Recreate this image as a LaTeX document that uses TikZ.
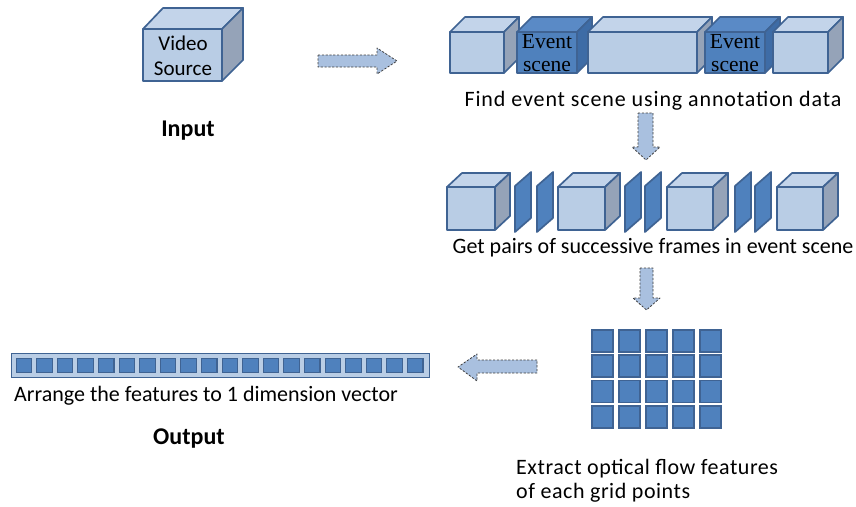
\documentclass[tikz,border=0pt]{standalone}
\usepackage{fontspec}
\setmainfont{Carlito}
\newfontfamily\evfont{Liberation Serif}
\definecolor{lightfill}{HTML}{B9CDE5}
\definecolor{topfill}{HTML}{C3D4EA}
\definecolor{sidefill}{HTML}{95A3B8}
\definecolor{darkfill}{HTML}{4F81BD}
\definecolor{darktop}{HTML}{5A8AC6}
\definecolor{darkside}{HTML}{3E6CA6}
\definecolor{edge}{HTML}{3F6393}
\definecolor{arrowfill}{HTML}{A9C0DF}
\tikzset{
  face/.style={draw=edge, line width=1.7pt, line join=round},
  front/.style={face, fill=lightfill, inner sep=0pt, outer sep=0pt, rectangle, anchor=north west},
  dfront/.style={face, fill=darkfill, inner sep=0pt, outer sep=0pt, rectangle, anchor=north west},
  slab/.style={face, fill=darkfill},
  blockarrow/.style={draw=black!75, fill=arrowfill, dashed, dash pattern=on 2.2pt off 1.6pt, line width=0.8pt, line join=round},
  lbl/.style={font=\fontsize{22}{25}\selectfont, inner sep=0pt},
  bold/.style={font=\fontsize{24}{27}\selectfont\bfseries, inner sep=0pt},
  evtxt/.style={font=\evfont\fontsize{21.5}{23}\selectfont, align=center, inner sep=0pt},
  cell/.style={draw=edge, line width=1.8pt, fill=darkfill},
  vcell/.style={draw=edge, line width=1.1pt, fill=darkfill},
}
\begin{document}
\begin{tikzpicture}[x=1pt,y=-1pt]
\useasboundingbox (0,0) rectangle (856,506);
\fill[white] (0,0) rectangle (856,506);

% video source cube
\path[face, fill=topfill] (143,29) -- (163,8) -- (243,8) -- (222,29) -- cycle;
\path[face, fill=sidefill] (222,29) -- (243,8) -- (243,60) -- (222,81) -- cycle;
\node[front, minimum width=79pt, minimum height=52pt] (video) at (143,29) {};
\node[align=center, inner sep=0pt, font=\fontsize{21}{24.5}\selectfont] (videotxt) at (183,56) {Video\\Source};
\node[bold] (input) at (188,131) {Input};

% arrow right
\path[blockarrow] (318,55) -- (377,55) -- (377,48) -- (397,61) -- (377,74) -- (377,67) -- (318,67) -- cycle;

% top row of scenes
\foreach \n/\a/\b/\s/\t/\f in {s1/450/504/front/topfill/sidefill, s2/517/577/dfront/darktop/darkside, s3/588/697/front/topfill/sidefill, s4/705/765/dfront/darktop/darkside, s5/773/828/front/topfill/sidefill}{
  \path[face, fill=\t] (\a,32) -- (\a+15,17) -- (\b+15,17) -- (\b,32) -- cycle;
  \path[face, fill=\f] (\b,32) -- (\b+15,17) -- (\b+15,58) -- (\b,73) -- cycle;
  \pgfmathsetmacro\w{\b-\a}
  \node[\s, minimum width=\w pt, minimum height=41pt] (\n) at (\a,32) {};
}
\node[evtxt] (ev1) at ([yshift=-1pt]s2.center) {Event\\scene};
\node[evtxt] (ev2) at ([yshift=-1pt]s4.center) {Event\\scene};
\node[lbl, font=\fontsize{22}{25}\selectfont\addfontfeature{LetterSpace=4}] (find) at (653,101) {Find event scene using annotation data};

% arrow down 1
\path[blockarrow] (638,113) -- (653,113) -- (653,147) -- (660,147) -- (646,160) -- (632,147) -- (638,147) -- cycle;

% middle row: frames
\foreach \n/\a/\b in {c1/447/495, c2/558/605, c3/667/713, c4/777/823}{
  \path[face, fill=topfill] (\a,187) -- (\a+15,173) -- (\b+15,173) -- (\b,187) -- cycle;
  \path[face, fill=sidefill] (\b,187) -- (\b+15,173) -- (\b+15,216) -- (\b,230) -- cycle;
  \pgfmathsetmacro\w{\b-\a}
  \node[front, minimum width=\w pt, minimum height=43pt] (\n) at (\a,187) {};
}
\foreach \l in {515,537,625,645,735,755}{
  \path[slab] (\l,186) -- (\l+16,172) -- (\l+16,218) -- (\l,232) -- cycle;
}
\node[lbl] (pairs) at (653,248) {Get pairs of successive frames in event scene};

% arrow down 2
\path[blockarrow] (640,268) -- (653,268) -- (653,298) -- (660,298) -- (646.5,310) -- (633,298) -- (640,298) -- cycle;

% grid
\foreach \i in {0,...,4}{
  \foreach \j in {0,...,3}{
    \node[cell, inner sep=0pt, minimum width=21pt, minimum height=22pt, anchor=north west] (g\i\j) at (591+27*\i, 329+25.3*\j) {};
  }
}
\node[lbl, align=left, anchor=north west, font=\fontsize{22}{24.5}\selectfont\addfontfeature{LetterSpace=2.5}] (extract) at (516,459) {Extract optical flow features\\of each grid points};

% arrow left
\path[blockarrow] (537,360) -- (477,360) -- (477,354) -- (458,367) -- (477,381) -- (477,373) -- (537,373) -- cycle;

% vector
\node[draw=edge, line width=1.3pt, fill=lightfill, inner sep=0pt, minimum width=418pt, minimum height=24pt, anchor=north west] (vec) at (11,353) {};
\foreach \k in {0,...,19}{
  \node[vcell, inner sep=0pt, minimum width=15.5pt, minimum height=14.5pt, anchor=north west] (v\k) at (15.5+20.6*\k, 357.8) {};
}
\node[lbl, anchor=west] (arrange) at (14,396) {Arrange the features to 1 dimension vector};
\node[bold] (output) at (189,439) {Output};
\end{tikzpicture}
\end{document}
